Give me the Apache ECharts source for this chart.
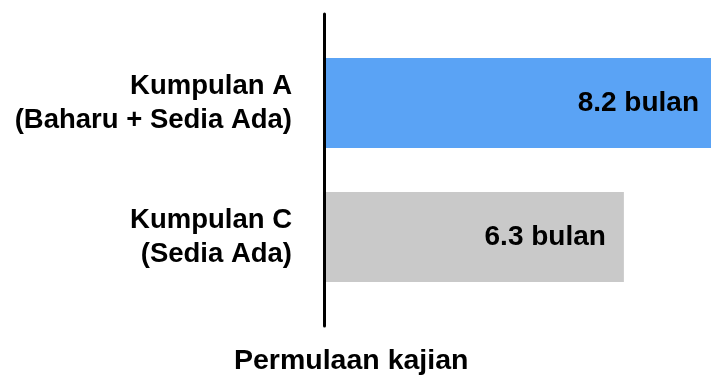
<!DOCTYPE html>
<html>
<head>
<meta charset="utf-8">
<script src="https://cdn.jsdelivr.net/npm/echarts@6/dist/echarts.min.js"></script>
<style>html,body{margin:0;padding:0;background:#fff;}#c{width:711px;height:380px;}</style>
</head>
<body>
<div id="c"></div>
<script>
var categories = ['Kumpulan A\n(Baharu + Sedia Ada)', 'Kumpulan C\n(Sedia Ada)'];
var values = [8.2, 6.3];
var valueLabels = ['8.2 bulan', '6.3 bulan'];
var barColors = ['#5AA3F5', '#C9C9C9'];
var axisTitle = 'Permulaan kajian';
var axisMax = 8.13;

var FONT = '"Liberation Sans", Arial, sans-serif';
var chart = echarts.init(document.getElementById('c'), null, {renderer: 'canvas'});
chart.setOption({
  animation: false,
  backgroundColor: '#fff',
  title: {
    text: axisTitle, left: 234, top: 347, padding: 0,
    textStyle: {fontFamily: FONT, fontWeight: 'bold', fontSize: 28.5, color: '#000'}
  },
  grid: [
    {left: 324, top: 36, right: 0, height: 268, containLabel: false},
    {left: 324, top: 14, width: 10, height: 312, containLabel: false}
  ],
  xAxis: [
    {gridIndex: 0, type: 'value', min: 0, max: axisMax, show: false},
    {gridIndex: 1, type: 'value', min: 0, max: 1, show: false}
  ],
  yAxis: [
    {
      gridIndex: 0, type: 'category', data: categories, inverse: true,
      axisLine: {show: false}, axisTick: {show: false}, splitLine: {show: false},
      axisLabel: {
        margin: 32, align: 'right', fontFamily: FONT, fontWeight: 'bold',
        fontSize: 27.5, lineHeight: 34, color: '#000', padding: [6, 0, 0, 0]
      }
    },
    {
      gridIndex: 1, type: 'value', min: 0, max: 1, z: 10,
      axisLine: {show: true, onZero: false, lineStyle: {color: '#000', width: 3}},
      axisTick: {show: false}, axisLabel: {show: false}, splitLine: {show: false}
    }
  ],
  series: [{
    type: 'bar', xAxisIndex: 0, yAxisIndex: 0, barWidth: 90,
    data: values.map(function (v, i) {
      return {value: v, itemStyle: {color: barColors[i]},
              label: {distance: i === 0 ? 12 : 18}};
    }),
    label: {
      show: true, position: 'insideRight',
      fontFamily: FONT, fontWeight: 'bold', fontSize: 28, color: '#000',
      formatter: function (p) { return valueLabels[p.dataIndex]; }
    }
  }]
});
</script>
</body>
</html>
